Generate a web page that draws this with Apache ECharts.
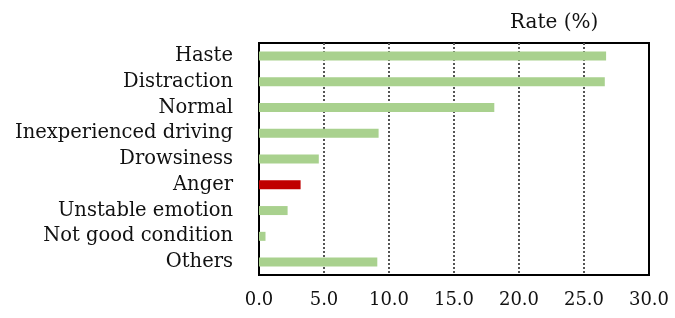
<!DOCTYPE html>
<html>
<head>
<meta charset="utf-8">
<script src="https://cdn.jsdelivr.net/npm/echarts@6/dist/echarts.min.js"></script>
<style>
  html, body { margin: 0; padding: 0; background: #fff; }
  #chart { width: 675px; height: 318px; }
</style>
</head>
<body>
<div id="chart"></div>
<script>
// categories, top to bottom
var categories = ['Haste', 'Distraction', 'Normal', 'Inexperienced driving', 'Drowsiness',
                  'Anger', 'Unstable emotion', 'Not good condition', 'Others'];
// rate (%) per category
var rates = [26.7, 26.6, 18.1, 9.2, 4.6, 3.2, 2.2, 0.5, 9.1];
// highlighted category
var highlight = 'Anger';

var chart = echarts.init(document.getElementById('chart'));

var font = 'DejaVu Serif';

var option = {
    animation: false,
    title: {
        text: 'Rate (%)',
        left: 505,
        top: 8,
        textStyle: { fontFamily: font, fontSize: 20, fontWeight: 'normal', color: '#111' }
    },
    grid: {
        left: 259, right: 26, top: 43, bottom: 43,
        show: true,
        borderColor: '#000',
        borderWidth: 2
    },
    xAxis: {
        type: 'value',
        min: 0,
        max: 30,
        interval: 5,
        axisLine: { show: false },
        axisTick: { show: false },
        axisLabel: {
            margin: 16,
            fontFamily: font,
            fontSize: 18,
            color: '#111',
            formatter: function (v) { return v.toFixed(1); }
        },
        splitLine: {
            show: true,
            // no dotted line over the frame at 0 and 30
            lineStyle: {
                type: [2, 2],
                width: 2,
                color: ['rgba(0,0,0,0)', '#555', '#555', '#555', '#555', '#555', 'rgba(0,0,0,0)']
            }
        }
    },
    yAxis: {
        type: 'category',
        inverse: true,
        data: categories,
        axisLine: { show: false },
        axisTick: { show: false },
        axisLabel: {
            interval: 0,
            margin: 26,
            fontFamily: font,
            fontSize: 19.5,
            color: '#111'
        }
    },
    series: [{
        type: 'bar',
        barWidth: 9,
        data: rates.map(function (v, i) {
            return {
                value: v,
                itemStyle: { color: categories[i] === highlight ? '#c00000' : '#a9d18e' }
            };
        })
    }]
};

chart.setOption(option);
</script>
</body>
</html>
